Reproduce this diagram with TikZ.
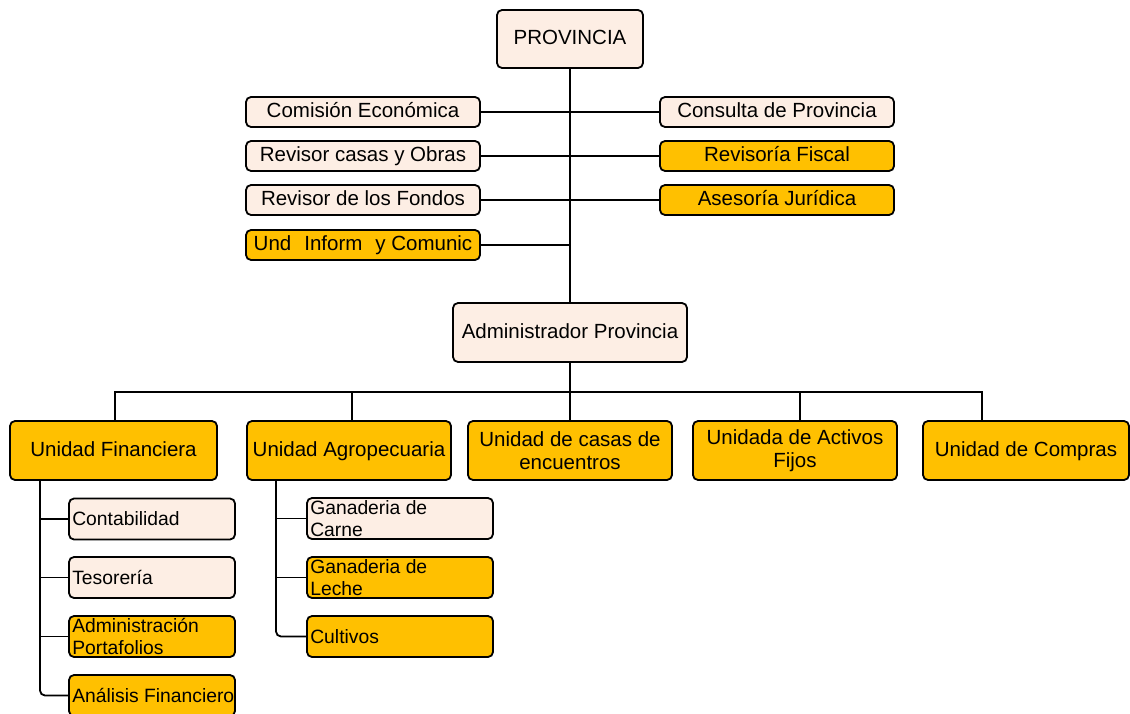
\documentclass[tikz,border=0pt]{standalone}
\usepackage{fontspec}
\setmainfont{Liberation Sans}
\definecolor{peach}{HTML}{FDEEE4}
\definecolor{amber}{HTML}{FFC000}
\begin{document}
\begin{tikzpicture}[x=1pt,y=-1pt,
  box/.style={draw=black, line width=1.8pt, rounded corners=5pt, inner sep=2pt,
    font=\fontsize{20.5}{23}\selectfont, align=center},
  one/.style={text height=16pt, text depth=4pt},
  light/.style={box, fill=peach},
  gold/.style={box, fill=amber},
  side/.style={minimum width=234, minimum height=30, one},
  unit/.style={minimum width=204, minimum height=59},
  leaf/.style={minimum height=41, inner sep=0pt},
  leaftext/.style={anchor=west, inner sep=0pt, xshift=4pt, align=left,
    font=\fontsize{19.3}{22}\selectfont},
  wire/.style={line width=1.8pt}]
\useasboundingbox (0,0) rectangle (1130,714);

% top level and staff offices
\node[light, one, minimum width=146, minimum height=58] (prov) at (570,39) {PROVINCIA};
\node[light, side] (com)  at (363,112) {Comisión Económica};
\node[light, side] (cons) at (777,112) {Consulta de Provincia};
\node[light, side] (rcas) at (363,156) {Revisor casas y Obras};
\node[gold,  side] (rfis) at (777,156) {Revisoría Fiscal};
\node[light, side] (rfon) at (363,200) {Revisor de los Fondos};
\node[gold,  side] (ases) at (777,200) {Asesoría Jurídica};
\node[gold,  side] (und)  at (363,245) {Und\hspace{13pt}Inform\hspace{13pt}y Comunic};
\node[light, one, minimum width=234, minimum height=59] (adm) at (570,332.5) {Administrador Provincia};

% units
\node[gold, one, unit, minimum width=207] (fin) at (113.5,450.5) {Unidad Financiera};
\node[gold, one, unit] (agro)  at (349,450.5) {Unidad Agropecuaria};
\node[gold, unit]      (casas) at (570,450.5) {Unidad de casas de\\encuentros};
\node[gold, unit]      (act)   at (795,450.5) {Unidada de Activos\\Fijos};
\node[gold, one, unit, minimum width=206] (comp) at (1026,450.5) {Unidad de Compras};

% financial sections
\node[light, leaf, minimum width=166] (cont) at (152,519) {};
\node[leaftext] (contT) at (cont.west) {Contabilidad};
\node[light, leaf, minimum width=166] (teso) at (152,577.5) {};
\node[leaftext] (tesoT) at (teso.west) {Tesorería};
\node[gold, leaf, minimum width=166] (port) at (152,636.5) {};
\node[leaftext] (portT) at (port.west) {Administración\\Portafolios};
\node[gold, leaf, minimum width=166] (anal) at (152,695.5) {};
\node[leaftext] (analT) at (anal.west) {Análisis Financiero};

% farming sections
\node[light, leaf, minimum width=186] (carne) at (400,518.5) {};
\node[leaftext] (carneT) at (carne.west) {Ganaderia de\\Carne};
\node[gold, leaf, minimum width=186] (leche) at (400,577.5) {};
\node[leaftext] (lecheT) at (leche.west) {Ganaderia de\\Leche};
\node[gold, leaf, minimum width=186] (cult) at (400,636.5) {};
\node[leaftext] (cultT) at (cult.west) {Cultivos};

% trunk and staff branches
\draw[wire] (prov) -- (adm);
\draw[wire] (com) -- (cons);
\draw[wire] (rcas) -- (rfis);
\draw[wire] (rfon) -- (ases);
\draw[wire] (und.east) -- (und.east -| prov.south);

% bus to the units
\coordinate (busL) at (115,392);
\coordinate (busR) at (982,392);
\coordinate (dropA) at (352,392);
\coordinate (dropB) at (800,392);
\draw[wire] (adm) -- (casas);
\draw[wire] (fin.north -| busL) -- (busL) -- (busR) -- (comp.north -| busR);
\draw[wire] (dropA) -- (dropA |- agro.north);
\draw[wire] (dropB) -- (dropB |- act.north);

% financial stem
\coordinate (stemF) at (40,480);
\draw[wire, rounded corners=5pt] (stemF) |- (anal.west);
\draw[wire] (stemF |- cont.west) -- (cont.west);
\draw[wire] (stemF |- teso.west) -- (teso.west);
\draw[wire] (stemF |- port.west) -- (port.west);

% farming stem
\coordinate (stemA) at (276,480);
\draw[wire, rounded corners=5pt] (stemA) |- (cult.west);
\draw[wire] (stemA |- carne.west) -- (carne.west);
\draw[wire] (stemA |- leche.west) -- (leche.west);
\end{tikzpicture}
\end{document}
